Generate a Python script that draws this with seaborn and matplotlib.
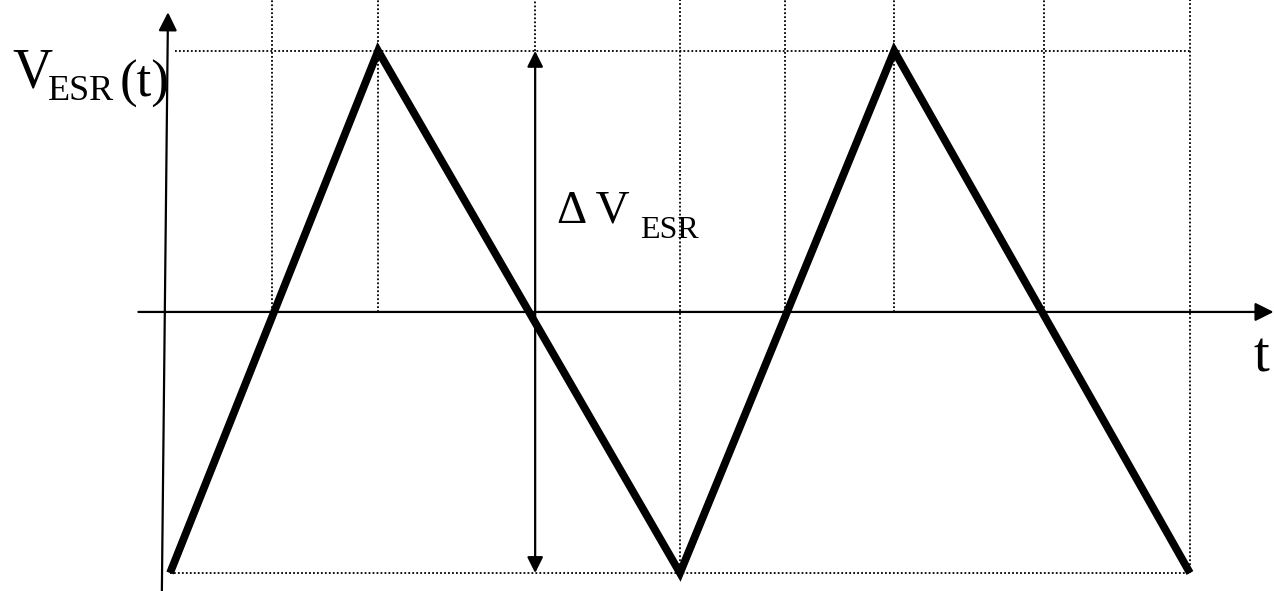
import numpy as np
import pandas as pd
import matplotlib
matplotlib.use("Agg")
import matplotlib.pyplot as plt
import seaborn as sns

# triangle ripple of the ESR voltage (time in arbitrary units, V normalised to +-1)
t_pts = [0.0, 2.04, 5.0, 7.1, 10.0]
v_pts = [-1.0, 1.0, -1.0, 1.0, -1.0]

# dotted guide lines: (t position, lowest v it reaches)
grid_t = [1.0, 2.04, 5.0, 6.03, 7.1, 8.57, 10.0]
grid_bottom = [0.0, 0.0, -1.0, 0.0, 0.0, 0.0, -1.0]
dv_t = 3.58  # position of the delta-V double arrow

sns.set_style("white")
plt.rcParams["font.family"] = ["Liberation Serif", "DejaVu Serif"]
plt.rcParams["text.color"] = "black"

fig = plt.figure(figsize=(12.74, 5.91), dpi=100)
ax = fig.add_axes([0, 0, 1, 1])
ax.set_xlim(-1.667, 10.824)
ax.set_ylim(-1.069, 1.195)
ax.axis("off")

df = pd.DataFrame({"t": t_pts, "v": v_pts})
sns.lineplot(data=df, x="t", y="v", ax=ax, color="black", lw=5.6,
             sort=False, solid_joinstyle="miter", solid_capstyle="butt",
             zorder=5)

dot = dict(color="black", lw=1.3, ls=(0, (1, 1.2)), zorder=1)
for gt, gb in zip(grid_t, grid_bottom):
    ax.plot([gt, gt], [gb, 1.3], **dot)
ax.plot([dv_t, dv_t], [1.0, 1.3], **dot)
ax.plot([0.05, 10.0], [1.0, 1.0], **dot)
ax.plot([0.0, 10.0], [-1.0, -1.0], **dot)

# axes with arrows
arr = dict(arrowstyle="-|>", color="black", lw=1.6, mutation_scale=28,
           shrinkA=0, shrinkB=0)
ax.annotate("", xy=(10.82, 0.0), xytext=(-0.31, 0.0), arrowprops=arr)
ax.annotate("", xy=(-0.02, 1.148), xytext=(-0.08, -1.07), arrowprops=arr)

# delta V double arrow
ax.annotate("", xy=(dv_t, 1.0), xytext=(dv_t, -1.0),
            arrowprops=dict(arrowstyle="<|-|>", color="black", lw=1.6,
                            mutation_scale=24, shrinkA=0, shrinkB=0))

# labels
ax.text(-1.55, 0.858, "V", fontsize=40, va="baseline")
ax.text(-1.2, 0.812, "ESR", fontsize=26, va="baseline")
ax.text(-0.49, 0.824, "(t)", fontsize=38, va="baseline")
ax.text(10.62, -0.23, "t", fontsize=41, va="baseline")
ax.text(3.79, 0.341, "\u0394 V", fontsize=34, va="baseline")
ax.text(4.61, 0.2835, "ESR", fontsize=23, va="baseline")

fig.savefig("out.png", dpi=100)
